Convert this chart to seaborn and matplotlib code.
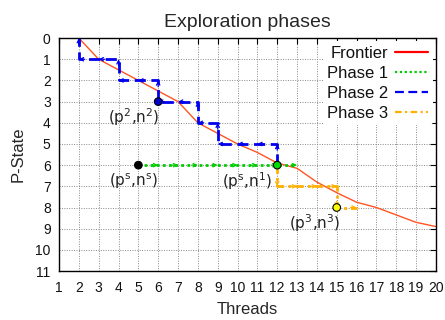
import matplotlib
matplotlib.use("Agg")
import matplotlib.pyplot as plt
import seaborn as sns
import pandas as pd

# Frontier of best P-state per thread count
frontier_threads = [2, 3, 4, 5, 6, 7, 8, 9, 10, 11, 12, 13, 14, 15, 16, 17, 18, 19, 20]
frontier_pstate = [0, 1.0, 1.5, 2.0, 2.5, 3.0, 4.0, 4.5, 5.0, 5.4, 5.9, 6.15, 6.8, 7.3, 7.75, 8.0, 8.35, 8.7, 8.9]

# Exploration paths (threads, P-state) visited in each phase
phase1_threads = [5, 13]
phase1_pstate = [6, 6]
phase2_threads = [12, 12, 9, 9, 8, 8, 6, 6, 4, 4, 2, 2]
phase2_pstate = [6, 5, 5, 4, 4, 3, 3, 2, 2, 1, 1, 0]
phase3_threads = [12, 12, 15, 15, 16]
phase3_pstate = [6, 7, 7, 8, 8]

# Highlighted configurations
point_threads = [5, 6, 12, 15]
point_pstate = [6, 3, 6, 8]
point_colors = ["#000000", "#0000cc", "#00dd00", "#ffff00"]
point_labels = [r"$\mathregular{(p^s{,}n^s)}$", r"$\mathregular{(p^2{,}n^2)}$",
                r"$\mathregular{(p^s{,}n^1)}$", r"$\mathregular{(p^3{,}n^3)}$"]
label_threads = [4.78, 4.75, 10.5, 13.9]
label_pstate = [6.74, 3.75, 6.74, 8.73]

x_ticks = list(range(1, 21))
y_ticks = list(range(0, 12))

sns.set_theme(style="white")
plt.rcParams["font.family"] = ["Liberation Sans", "DejaVu Sans"]

fig = plt.figure(figsize=(4.45, 3.2), dpi=100)
ax = fig.add_axes([0.1326, 0.153, 0.847, 0.728])

frontier = pd.DataFrame({"Threads": frontier_threads, "P-State": frontier_pstate})
ax.plot([], [], color="#ff0000", lw=1.6, label="Frontier")
sns.lineplot(data=frontier, x="Threads", y="P-State", ax=ax, color="#ff5522",
             lw=1.0, sort=False, estimator=None, label="_frontier")

phases = [
    (phase1_threads, phase1_pstate, "#00cc00", (0, (1, 1.2)), "Phase 1"),
    (phase2_threads, phase2_pstate, "#0000ee", (0, (4, 2)), "Phase 2"),
    (phase3_threads, phase3_pstate, "#ffb000", (0, (3, 1.5, 1, 1.5)), "Phase 3"),
]
for xs, ys, col, ls, name in phases:
    df = pd.DataFrame({"Threads": xs, "P-State": ys})
    sns.lineplot(data=df, x="Threads", y="P-State", ax=ax, color=col, lw=2.0,
                 linestyle=ls, sort=False, estimator=None, label=name)
    # small arrowhead at the end of each unit step
    for (x0, y0), (x1, y1) in zip(zip(xs[:-1], ys[:-1]), zip(xs[1:], ys[1:])):
        n = int(max(abs(x1 - x0), abs(y1 - y0)))
        dx = (x1 - x0) / n
        dy = (y1 - y0) / n
        for k in range(1, n + 1):
            ex, ey = x0 + k * dx, y0 + k * dy
            ax.annotate("", xy=(ex, ey), xytext=(ex - 0.3 * dx, ey - 0.3 * dy),
                        arrowprops=dict(arrowstyle="->", color=col, lw=0.9,
                                        mutation_scale=6, shrinkA=0, shrinkB=0),
                        zorder=4)

pts = pd.DataFrame({"Threads": point_threads, "P-State": point_pstate})
sns.scatterplot(data=pts, x="Threads", y="P-State", ax=ax, c=point_colors,
                s=30, edgecolor="black", linewidth=0.8, zorder=6, legend=False)

for lbl, lx, ly in zip(point_labels, label_threads, label_pstate):
    ax.text(lx, ly, lbl, ha="center", va="center", fontsize=11,
            family=["DejaVu Sans"], color="#222222", zorder=7)

ax.set_xlim(1, 20)
ax.set_ylim(11, 0)
ax.set_xticks(x_ticks)
ax.set_yticks(y_ticks)
ax.tick_params(direction="in", length=4, width=0.8, top=True, right=True,
               labelsize=10, colors="black", labelcolor="#111111")
ax.tick_params(axis="x", labeltop=False, pad=7)
ax.tick_params(axis="y", labelright=False, pad=6)
ax.grid(True, color="#888888", linestyle=(0, (1, 1.5)), linewidth=0.7)
for sp in ax.spines.values():
    sp.set_color("black")
    sp.set_linewidth(1.0)

ax.set_xlabel("Threads", fontsize=12, labelpad=5)
ax.set_ylabel("P-State", fontsize=12, labelpad=7)
ax.set_title("Exploration phases", fontsize=14, pad=8)

leg = ax.legend(loc="upper right", markerfirst=False, frameon=True,
                fontsize=12, handlelength=2.0, handletextpad=0.4,
                labelspacing=0.3, borderaxespad=0.2, borderpad=0.25)
leg.get_frame().set_facecolor("white")
leg.get_frame().set_edgecolor("none")
leg.get_frame().set_alpha(1.0)
for t in leg.get_texts():
    t.set_ha("right")
    t.set_color("#111111")
for h in leg.legend_handles:
    h.set_linewidth(1.6)

fig.savefig("out.png", dpi=100)
